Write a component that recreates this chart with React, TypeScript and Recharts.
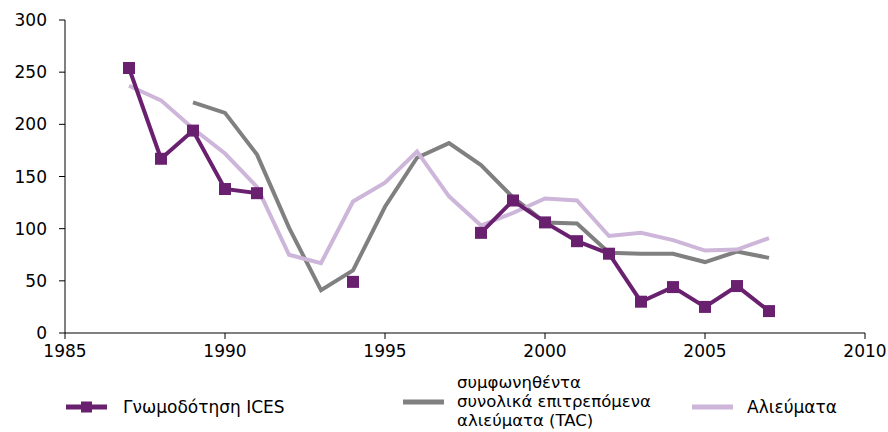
import { Line, LineChart, XAxis, YAxis } from "recharts";

const years = [
  1987, 1988, 1989, 1990, 1991, 1992, 1993, 1994, 1995, 1996, 1997,
  1998, 1999, 2000, 2001, 2002, 2003, 2004, 2005, 2006, 2007,
];
const ices = [
  254, 167, 194, 138, 134, null, null, 49, null, null, null,
  96, 127, 106, 88, 76, 30, 44, 25, 45, 21,
];
const tac = [
  null, null, 221, 211, 171, 101, 41, 60, 121, 168, 182,
  161, 130, 106, 105, 77, 76, 76, 68, 78, 72,
];
const catches = [
  237, 223, 196, 172, 140, 75, 67, 126, 144, 174, 131,
  103, 115, 129, 127, 93, 96, 89, 79, 80, 91,
];
const xTicks = [1985, 1990, 1995, 2000, 2005, 2010];
const yTicks = [0, 50, 100, 150, 200, 250, 300];

const ICES_COLOR = "#69216F";
const TAC_COLOR = "#808080";
const CATCH_COLOR = "#CDB6D9";
const FONT = "'DejaVu Sans', Verdana, sans-serif";

const data = years.map((y, i) => ({
  year: y,
  ices: ices[i],
  tac: tac[i],
  catches: catches[i],
}));

const tick = { fill: "#000", fontSize: 17, fontFamily: FONT };

function Square(props: any) {
  const { cx, cy, index } = props;
  if (cx == null || cy == null || props.value == null) return <g key={index} />;
  return <rect key={index} x={cx - 6} y={cy - 6} width={12} height={12} fill={ICES_COLOR} />;
}

function LegendIcon({ color, marker }: { color: string; marker?: boolean }) {
  return (
    <svg width={41} height={12} style={{ display: "block", flexShrink: 0 }}>
      <line x1={0} y1={6} x2={41} y2={6} stroke={color} strokeWidth={5} />
      {marker && <rect x={15} y={0.5} width={11} height={11} fill={color} />}
    </svg>
  );
}

export default function App() {
  const legendText = {
    fontFamily: FONT,
    fontSize: 17,
    color: "#000",
    lineHeight: "20px",
    whiteSpace: "nowrap" as const,
  };
  return (
    <div style={{ position: "absolute", left: 0, top: 0, width: 888, height: 432, background: "#fff" }}>
      <LineChart
        width={888}
        height={432}
        data={data}
        margin={{ top: 20, right: 23, left: 0, bottom: 59 }}
      >
        <XAxis
          dataKey="year"
          type="number"
          domain={[1985, 2010]}
          ticks={xTicks}
          tick={tick}
          stroke="#000"
          tickSize={6}
          tickMargin={6}
          height={40}
        />
        <YAxis
          domain={[0, 300]}
          ticks={yTicks}
          tick={tick}
          stroke="#000"
          tickSize={6}
          tickMargin={12}
          width={65}
        />
        <Line
          dataKey="tac"
          stroke={TAC_COLOR}
          strokeWidth={4}
          dot={false}
          isAnimationActive={false}
        />
        <Line
          dataKey="catches"
          stroke={CATCH_COLOR}
          strokeWidth={4}
          dot={false}
          isAnimationActive={false}
        />
        <Line
          dataKey="ices"
          stroke={ICES_COLOR}
          strokeWidth={4}
          dot={Square}
          activeDot={false}
          isAnimationActive={false}
        />
      </LineChart>
      <div style={{ position: "absolute", left: 66, top: 397, display: "flex", alignItems: "center", ...legendText }}>
        <LegendIcon color={ICES_COLOR} marker />
        <span style={{ marginLeft: 16 }}>Γνωμοδότηση ICES</span>
      </div>
      <div
        style={{
          position: "absolute",
          left: 403,
          top: 373,
          display: "flex",
          alignItems: "center",
          ...legendText,
          fontSize: 16.5,
          lineHeight: "19.2px",
        }}
      >
        <LegendIcon color={TAC_COLOR} />
        <span style={{ marginLeft: 13 }}>
          συμφωνηθέντα
          <br />
          συνολικά επιτρεπόμενα
          <br />
          αλιεύματα (TAC)
        </span>
      </div>
      <div style={{ position: "absolute", left: 692, top: 397, display: "flex", alignItems: "center", ...legendText }}>
        <LegendIcon color={CATCH_COLOR} />
        <span style={{ marginLeft: 14 }}>Αλιεύματα</span>
      </div>
    </div>
  );
}
